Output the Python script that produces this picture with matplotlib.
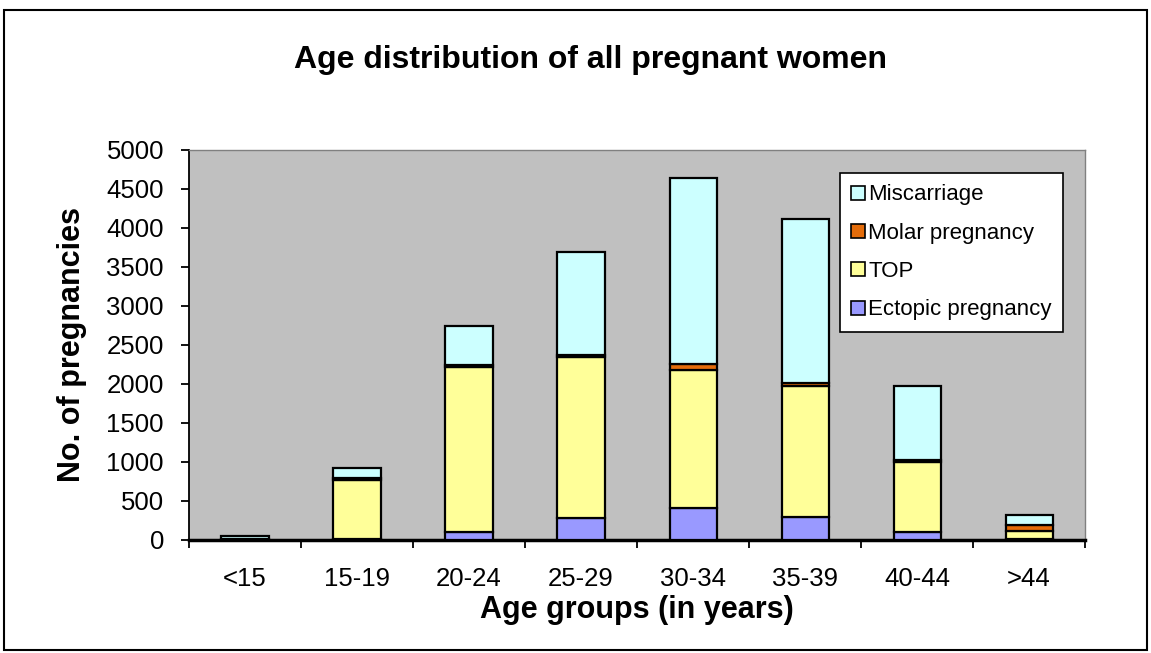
import matplotlib.pyplot as plt
import matplotlib.patches as mpatches
import numpy as np

plt.rcParams['font.family'] = ['Liberation Sans', 'DejaVu Sans']

age_groups = ['<15', '15-19', '20-24', '25-29', '30-34', '35-39', '40-44', '>44']
ectopic = [0, 10, 90, 270, 400, 295, 90, 5]
top = [5, 760, 2130, 2070, 1770, 1670, 900, 110]
molar = [0, 15, 25, 30, 85, 50, 25, 65]
miscarriage = [40, 130, 500, 1315, 2380, 2105, 955, 135]

series = [
    ('Ectopic pregnancy', ectopic, '#9999FF'),
    ('TOP', top, '#FFFF99'),
    ('Molar pregnancy', molar, '#E46C0A'),
    ('Miscarriage', miscarriage, '#CCFFFF'),
]

fig = plt.figure(figsize=(11.51, 6.53), dpi=100)
ax = fig.add_axes([0.1642, 0.1738, 0.7785, 0.5965])
ax.set_facecolor('#C0C0C0')

x = np.arange(len(age_groups))
bottom = np.zeros(len(age_groups))
handles = []
for name, vals, col in series:
    ax.bar(x, vals, 0.42, bottom=bottom, color=col, edgecolor='black', linewidth=1.6, zorder=3)
    bottom += np.array(vals)
    handles.append(mpatches.Patch(facecolor=col, edgecolor='black', linewidth=1.2, label=name))

ax.set_xlim(-0.5, len(age_groups) - 0.5)
ax.set_ylim(0, 5000)
ax.set_yticks(np.arange(0, 5001, 500))
ax.set_xticks(x)
ax.set_xticklabels(age_groups)
ax.set_xticks(np.arange(-0.5, len(age_groups)), minor=True)
ax.tick_params(axis='x', which='major', length=0, pad=20, labelsize=18.5)
ax.tick_params(axis='x', which='minor', length=6, width=1.3, direction='out')
ax.tick_params(axis='y', length=6, width=1.3, direction='out', pad=12, labelsize=18.5)

for s in ['top', 'right']:
    ax.spines[s].set_color('#808080')
    ax.spines[s].set_linewidth(1)
ax.spines['left'].set_color('black')
ax.spines['left'].set_linewidth(1.3)
ax.spines['bottom'].set_color('black')
ax.spines['bottom'].set_linewidth(2.5)

ax.set_xlabel('Age groups (in years)', fontsize=22, fontweight='bold', labelpad=3)
ax.set_ylabel('No. of pregnancies', fontsize=22, fontweight='bold', labelpad=14)

leg = ax.legend(handles=handles[::-1], loc='upper right', bbox_to_anchor=(0.975, 0.94),
                fontsize=16, frameon=True, fancybox=False, framealpha=1,
                handlelength=0.6, handleheight=0.6,
                handletextpad=0.15, labelspacing=0.78, borderpad=0.5, borderaxespad=0)
leg.get_frame().set_edgecolor('black')
leg.get_frame().set_linewidth(1.2)
leg.get_frame().set_facecolor('white')
leg.set_zorder(5)

fig.text(0.5126, 0.908, 'Age distribution of all pregnant women', ha='center', va='center',
         fontsize=23, fontweight='bold')

frame = mpatches.Rectangle((0.0035, 0.0046), 0.993, 0.980, transform=fig.transFigure,
                           fill=False, edgecolor='black', linewidth=1.5)
fig.patches.append(frame)

fig.savefig('out.png', dpi=100)
